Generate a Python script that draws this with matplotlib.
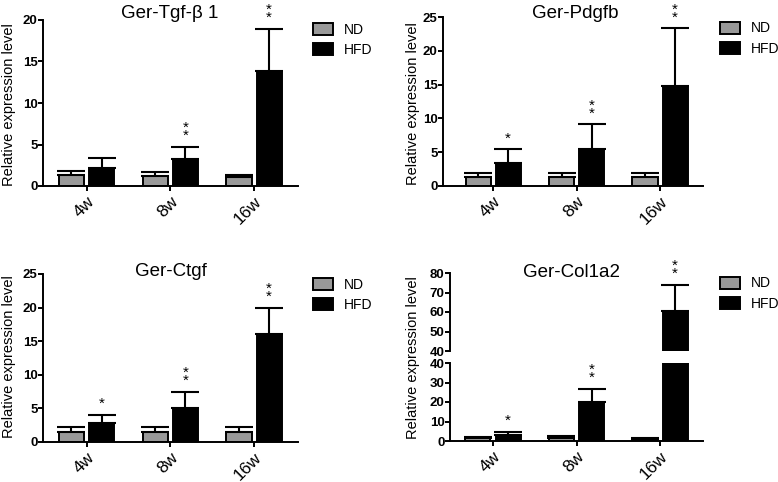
import matplotlib
matplotlib.use("Agg")
import matplotlib.pyplot as plt
from matplotlib.patches import Patch
import numpy as np

plt.rcParams["font.family"] = ["Liberation Sans", "DejaVu Sans"]

W, H = 778, 482

groups = ["4w", "8w", "16w"]
series = ["ND", "HFD"]
nd_color = "#999999"
hfd_color = "#000000"

# Ger-Tgf-beta 1
tgf_nd = [1.29, 1.25, 1.12]
tgf_nd_err = [0.56, 0.40, 0.18]
tgf_hfd = [2.2, 3.2, 13.85]
tgf_hfd_err = [1.13, 1.5, 5.05]
tgf_stars = ["", "*\n*", "*\n*"]

# Ger-Pdgfb
pdgfb_nd = [1.34, 1.3, 1.3]
pdgfb_nd_err = [0.56, 0.6, 0.6]
pdgfb_hfd = [3.4, 5.5, 14.8]
pdgfb_hfd_err = [2.0, 3.6, 8.5]
pdgfb_stars = ["*", "*\n*", "*\n*"]

# Ger-Ctgf
ctgf_nd = [1.5, 1.5, 1.5]
ctgf_nd_err = [0.7, 0.8, 0.8]
ctgf_hfd = [2.9, 5.1, 16.0]
ctgf_hfd_err = [1.07, 2.4, 3.9]
ctgf_stars = ["*", "*\n*", "*\n*"]

# Ger-Col1a2 (broken axis)
col_nd = [1.5, 1.5, 1.2]
col_nd_err = [0.7, 1.0, 0.4]
col_hfd = [3.3, 20.2, 60.7]
col_hfd_err = [1.4, 6.5, 13.3]
col_stars = ["*", "*\n*", "*\n*"]

fig = plt.figure(figsize=(W / 100, H / 100), dpi=100)


def px_axes(left, top, right, bottom):
    return fig.add_axes([left / W, (H - bottom) / H, (right - left) / W, (bottom - top) / H])


def style_axis(ax, yticks, show_bottom=True):
    for side in ["top", "right"]:
        ax.spines[side].set_visible(False)
    ax.spines["left"].set_linewidth(1.4)
    ax.spines["bottom"].set_linewidth(1.4)
    ax.spines["bottom"].set_visible(show_bottom)
    ax.set_yticks(yticks, labels=[str(t) for t in yticks], fontweight="bold", fontsize=9.5)
    ax.tick_params(axis="y", direction="out", length=3.5, width=1.4, pad=0.5)
    if show_bottom:
        ax.tick_params(axis="x", direction="out", length=3.5, width=1.4, pad=2)
        ax.set_xticks(np.arange(len(groups)))
        ax.set_xticklabels(groups, rotation=45, ha="right", rotation_mode="anchor", fontsize=12.5)
    else:
        ax.set_xticks([])


def draw_bars(ax, nd, nd_err, hfd, hfd_err):
    x = np.arange(len(groups))
    kw = dict(width=0.3, edgecolor="black", linewidth=1.4, zorder=2,
              error_kw=dict(elinewidth=1.5, capsize=10, capthick=1.5, ecolor="black"))
    ax.bar(x - 0.18, nd, color=nd_color, yerr=[np.zeros(3), nd_err], **kw)
    ax.bar(x + 0.18, hfd, color=hfd_color, yerr=[np.zeros(3), hfd_err], **kw)


def draw_stars(ax, hfd, hfd_err, stars):
    for i, s in enumerate(stars):
        if s:
            ax.annotate(s, xy=(i + 0.18, hfd[i] + hfd_err[i]), xytext=(0, 3),
                        textcoords="offset points", ha="center", va="bottom",
                        fontsize=11, linespacing=0.45, annotation_clip=False)


def add_legend(ax, x_px, y_px):
    handles = [Patch(facecolor=nd_color, edgecolor="black", linewidth=1.4),
               Patch(facecolor=hfd_color, edgecolor="black", linewidth=1.4)]
    ax.legend(handles, series, loc="center left", bbox_to_anchor=(x_px / W, 1 - y_px / H),
              bbox_transform=fig.transFigure, frameon=False, fontsize=10,
              handlelength=1.45, handleheight=0.95, handletextpad=0.75,
              labelspacing=0.45, borderpad=0, borderaxespad=0)


def add_texts(title, tx, ty, lx, ly):
    fig.text(tx / W, 1 - ty / H, title, ha="center", va="baseline", fontsize=13.5)
    fig.text(lx / W, 1 - ly / H, "Relative expression level", ha="center", va="center",
             rotation=90, fontsize=10.5)


def simple_panel(box, xlim, ymax, nd, nd_err, hfd, hfd_err, stars):
    ax = px_axes(*box)
    draw_bars(ax, nd, nd_err, hfd, hfd_err)
    ax.set_xlim(*xlim)
    ax.set_ylim(0, ymax)
    style_axis(ax, list(range(0, ymax + 1, 5)))
    draw_stars(ax, hfd, hfd_err, stars)
    return ax


ax1 = simple_panel((43, 20, 298, 186), (-0.52, 2.525), 20,
                   tgf_nd, tgf_nd_err, tgf_hfd, tgf_hfd_err, tgf_stars)
add_legend(ax1, 313, 40)
add_texts("Ger-Tgf-β 1", 170, 18, 9, 105)

ax2 = simple_panel((443, 17, 703, 186), (-0.6, 2.515), 25,
                   pdgfb_nd, pdgfb_nd_err, pdgfb_hfd, pdgfb_hfd_err, pdgfb_stars)
add_legend(ax2, 720, 38.5)
add_texts("Ger-Pdgfb", 575, 18, 413, 104)

ax3 = simple_panel((43, 274, 298, 442), (-0.52, 2.525), 25,
                   ctgf_nd, ctgf_nd_err, ctgf_hfd, ctgf_hfd_err, ctgf_stars)
add_legend(ax3, 313, 295)
add_texts("Ger-Ctgf", 171, 276, 9, 357)

# broken axis panel
ax4_top = px_axes(450, 273, 703, 351)
ax4_bot = px_axes(450, 363, 703, 441)
for ax, lo, hi in [(ax4_top, 40, 80), (ax4_bot, 0, 40)]:
    draw_bars(ax, col_nd, col_nd_err, col_hfd, col_hfd_err)
    ax.set_xlim(-0.515, 2.515)
    ax.set_ylim(lo, hi)
style_axis(ax4_top, list(range(40, 81, 10)), show_bottom=False)
style_axis(ax4_bot, list(range(0, 41, 10)))
top_idx = [i for i in range(3) if col_hfd[i] + col_hfd_err[i] > 40]
draw_stars(ax4_top, col_hfd, col_hfd_err, [col_stars[i] if i in top_idx else "" for i in range(3)])
draw_stars(ax4_bot, col_hfd, col_hfd_err, [col_stars[i] if i not in top_idx else "" for i in range(3)])
add_legend(ax4_top, 720, 293.5)
add_texts("Ger-Col1a2", 572, 277, 413, 358)

fig.savefig("out.png", dpi=100)
